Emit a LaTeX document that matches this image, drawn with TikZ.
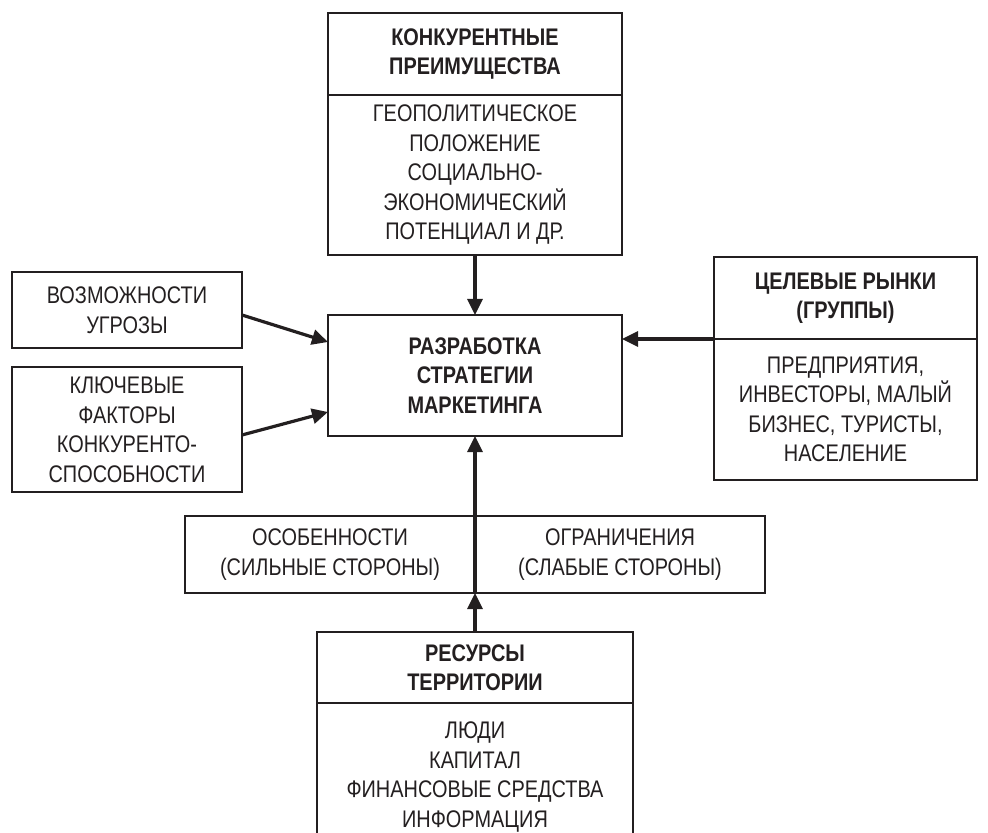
\documentclass[tikz,border=0pt]{standalone}
\usepackage{fontspec}
\setmainfont{Liberation Sans}[FakeStretch=0.83]
\usepackage{tikz}
\usetikzlibrary{arrows.meta, positioning}
\definecolor{myink}{RGB}{35,31,32}
\tikzset{
  box/.style={rectangle, draw=myink, text=myink, line width=1pt,
    align=center, inner sep=2pt, outer sep=0pt,
    font=\fontsize{12}{14.75}\selectfont},
  headbox/.style={box, font=\fontsize{12}{14.75}\selectfont\bfseries},
  arrow/.style={-{Triangle[length=8pt, width=7.5pt]}, line width=1.6pt, color=myink}
}

\begin{document}
\begin{tikzpicture}[x=0.5pt, y=-0.5pt]
  \clip (0,0) rectangle (988,833);
  % competitive advantages
  \node[headbox, minimum width=147pt, minimum height=41pt] (advhead) at (475,54) {КОНКУРЕНТНЫЕ\\ПРЕИМУЩЕСТВА};
  \node[box, minimum width=147pt, minimum height=80pt, below=0pt of advhead] (advbody) {ГЕОПОЛИТИЧЕСКОЕ\\ПОЛОЖЕНИЕ\\СОЦИАЛЬНО-\\ЭКОНОМИЧЕСКИЙ\\ПОТЕНЦИАЛ И ДР.};
  % strategy
  \node[headbox, minimum width=147pt, minimum height=60.5pt] (strat) at (475,375.5) {РАЗРАБОТКА\\СТРАТЕГИИ\\МАРКЕТИНГА};
  % left side
  \node[box, minimum width=115pt, minimum height=38pt] (opp) at (127,310) {ВОЗМОЖНОСТИ\\УГРОЗЫ};
  \node[box, minimum width=115pt, minimum height=62.5pt] (keyf) at (127,429.5) {КЛЮЧЕВЫЕ\\ФАКТОРЫ\\КОНКУРЕНТО-\\СПОСОБНОСТИ};
  % target markets
  \node[headbox, minimum width=131.5pt, minimum height=41pt] (markhead) at (845.5,298) {ЦЕЛЕВЫЕ РЫНКИ\\(ГРУППЫ)};
  \node[box, minimum width=131.5pt, minimum height=70.5pt, below=0pt of markhead] (markbody) {ПРЕДПРИЯТИЯ,\\ИНВЕСТОРЫ, МАЛЫЙ\\БИЗНЕС, ТУРИСТЫ,\\НАСЕЛЕНИЕ};
  % strengths / weaknesses
  \node[box, minimum width=145pt, minimum height=38.5pt] (strong) at (330,554.5) {ОСОБЕННОСТИ\\(СИЛЬНЫЕ СТОРОНЫ)};
  \node[box, minimum width=145pt, minimum height=38.5pt, right=0pt of strong] (weak) {ОГРАНИЧЕНИЯ\\(СЛАБЫЕ СТОРОНЫ)};
  % resources
  \node[headbox, minimum width=158pt, minimum height=35.5pt] (reshead) at (475,667.5) {РЕСУРСЫ\\ТЕРРИТОРИИ};
  \node[box, minimum width=158pt, minimum height=74pt, below=0pt of reshead] (resbody) {ЛЮДИ\\КАПИТАЛ\\ФИНАНСОВЫЕ СРЕДСТВА\\ИНФОРМАЦИЯ};

  \draw[arrow] (advbody) -- (strat);
  \draw[arrow] ([yshift=-2.5pt]opp.east) -- ([yshift=16.75pt]strat.west);
  \draw[arrow] ([yshift=-2.75pt]keyf.east) -- ([yshift=-18.25pt]strat.west);
  \draw[arrow] (markhead.south west) -- (markhead.south west -| strat.east);
  \draw[arrow] (strong.south east) -- (strat.south);
  \draw[arrow] (reshead.north) -- (strong.south east);
\end{tikzpicture}
\end{document}
